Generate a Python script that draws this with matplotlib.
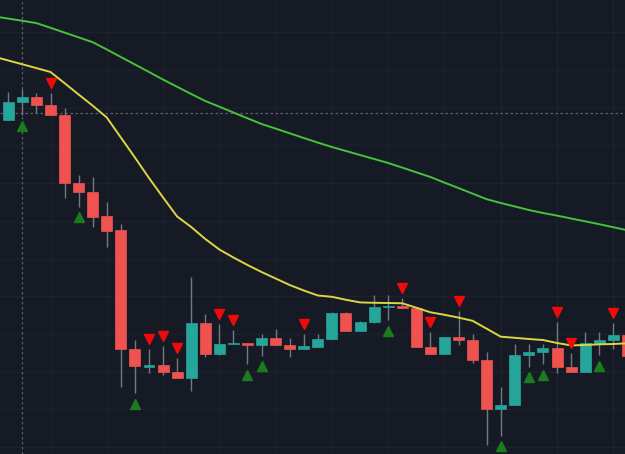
import numpy as np
import matplotlib
matplotlib.use("Agg")
import matplotlib.pyplot as plt

# candle data (oldest -> newest)
opens = [38.0, 39.8, 40.27, 39.47, 38.5, 31.73, 30.77, 28.4, 27.0, 15.07,
         13.33, 13.47, 12.83, 12.23, 17.67, 14.6, 15.6, 15.73, 15.47, 16.23,
         15.47, 15.07, 15.33, 16.07, 18.73, 16.93, 17.83, 19.33, 19.4, 19.2,
         15.33, 14.6, 16.27, 16.0, 14.0, 9.07, 9.5, 14.47, 14.77, 15.23,
         13.33, 12.77, 15.73, 16.0, 16.5]
highs = [40.83, 41.1, 40.67, 40.73, 39.17, 32.5, 32.27, 29.83, 27.6, 16.0,
         15.07, 15.4, 14.23, 22.33, 18.57, 17.57, 17.0, 15.73, 16.57, 17.07,
         16.17, 16.6, 16.57, 18.83, 18.83, 17.9, 20.5, 20.5, 20.17, 19.25,
         16.83, 16.27, 18.93, 16.57, 14.83, 11.27, 15.6, 15.6, 15.6, 17.83,
         14.67, 16.77, 16.77, 17.67, 17.0]
lows = [38.0, 38.5, 38.67, 38.47, 30.17, 29.33, 27.33, 25.33, 11.27, 10.67,
        12.73, 12.5, 12.23, 10.9, 14.27, 14.5, 15.6, 13.6, 14.43, 15.47,
        14.27, 15.07, 15.33, 16.07, 16.93, 16.9, 17.67, 18.0, 19.2, 15.33,
        14.6, 14.6, 15.5, 13.67, 5.5, 6.43, 9.5, 13.33, 13.6, 12.73,
        12.77, 12.77, 14.5, 15.07, 14.0]
closes = [39.83, 40.27, 39.47, 38.47, 31.73, 30.77, 28.33, 26.93, 15.07, 13.4,
          13.5, 12.83, 12.23, 17.67, 14.6, 15.57, 15.73, 15.47, 16.23, 15.47,
          15.07, 15.37, 16.07, 18.73, 16.93, 17.83, 19.33, 19.4, 19.2, 15.33,
          14.6, 16.27, 15.97, 14.0, 9.07, 9.5, 14.5, 14.77, 15.23, 13.33,
          12.77, 15.67, 16.0, 16.5, 14.4]

# moving averages (first value belongs to the bar just left of the view)
ma_slow = [48.36, 48.14, 47.92, 47.69, 47.22, 46.74, 46.26, 45.78, 45.05, 44.3,
           43.55, 42.8, 42.04, 41.32, 40.6, 39.9, 39.33, 38.75, 38.17, 37.6,
           37.14, 36.67, 36.2, 35.74, 35.3, 34.9, 34.5, 34.1, 33.7, 33.24,
           32.77, 32.3, 31.74, 31.19, 30.64, 30.08, 29.7, 29.35, 29.0, 28.7,
           28.44, 28.15, 27.87, 27.58, 27.28, 26.97]
ma_fast = [44.33, 43.95, 43.57, 43.19, 42.8, 41.68, 40.55, 39.43, 38.25, 36.25,
           34.25, 32.2, 30.25, 28.35, 27.3, 26.1, 25.05, 24.25, 23.5, 22.8,
           22.15, 21.5, 20.95, 20.45, 20.32, 20.02, 19.76, 19.72, 19.7, 19.67,
           19.23, 18.77, 18.52, 18.24, 17.92, 17.13, 16.33, 16.22, 16.1, 16.0,
           15.7, 15.46, 15.5, 15.57, 15.6, 15.67]

# signal bars
sell_idx = [3, 10, 11, 12, 15, 16, 21, 28, 30, 32, 39, 40, 43]
buy_idx = [1, 5, 9, 17, 18, 27, 35, 37, 38, 42]

bg = "#151a25"
up_col = "#26a69a"
down_col = "#ef5350"
wick_col = "#737884"

fig = plt.figure(figsize=(6.25, 4.54), dpi=100, facecolor=bg)
ax = fig.add_axes([0, 0, 1, 1], facecolor=bg)

x = np.arange(len(opens))
o = np.array(opens); h = np.array(highs); l = np.array(lows); c = np.array(closes)
up = c >= o

# grid
for gx in range(3, 46, 4):
    ax.axvline(gx, color="#1c212d", lw=1.0, zorder=0)
for gy in np.arange(43 - 3.77 * 12, 52, 3.77):
    ax.axhline(gy, color="#1c212d", lw=1.0, zorder=0)

# crosshair
ax.axhline(38.7, color="#5c606c", lw=0.9, ls=(0, (2, 2)), zorder=1)
ax.axvline(1, color="#5c606c", lw=0.9, ls=(0, (2, 2)), zorder=1)

# wicks + bodies
ax.vlines(x, l, h, color=wick_col, lw=1.0, zorder=2)
colors = np.where(up, up_col, down_col)
body_bottom = np.minimum(o, c)
body_h = np.maximum(np.abs(c - o), 0.12)
ax.bar(x, body_h, bottom=body_bottom, width=0.78, color=colors,
       edgecolor=colors, linewidth=0.5, zorder=3)

# moving averages
xm = np.arange(-1, len(ma_slow) - 1)
ax.plot(xm, ma_slow, color="#45c33a", lw=1.4, zorder=4)
ax.plot(xm, ma_fast, color="#dcd645", lw=1.4, zorder=4)

# signals
ax.plot(sell_idx, h[sell_idx] + 1.0, ls="none", marker="v", ms=6.5,
        color="#f00a0a", zorder=5)
ax.plot(buy_idx, l[buy_idx] - 1.05, ls="none", marker="^", ms=6.5,
        color="#1c7a1f", zorder=5)

ax.set_xlim(-0.59, 43.83)
ax.set_ylim(4.6, 50)
ax.set_axis_off()

fig.savefig("out.png", dpi=100, facecolor=bg)
